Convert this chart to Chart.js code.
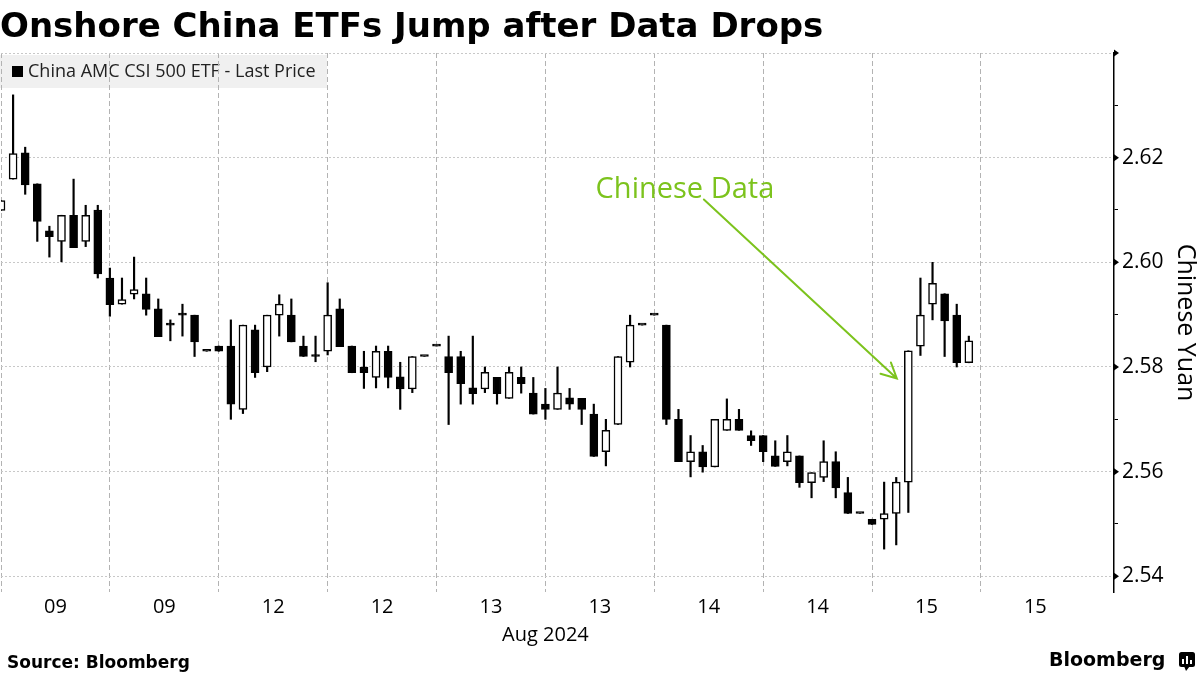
<!DOCTYPE html>
<html>
<head>
<meta charset="utf-8">
<script src="https://cdn.jsdelivr.net/npm/chart.js@4.4.1/dist/chart.umd.min.js"></script>
<style>
  html, body { margin: 0; padding: 0; background: #fff; }
  #chart { display: block; }
</style>
</head>
<body>
<canvas id="chart" width="1200" height="675"></canvas>
<script>
// 15-minute candles, China AMC CSI 500 ETF, 9 slots per half-day session
const opens  = [2.6099, 2.6159, 2.6209, 2.6150, 2.6060, 2.6040, 2.6090, 2.6040, 2.6100,
                2.5970, 2.5920, 2.5939, 2.5940, 2.5911, 2.5880, 2.5899, 2.5899, 2.5830,
                2.5840, 2.5840, 2.5719, 2.5871, 2.5800, 2.5899, 2.5899, 2.5840, 2.5820,
                2.5830, 2.5911, 2.5840, 2.5800, 2.5780, 2.5830, 2.5781, 2.5758, 2.5820,
                2.5840, 2.5820, 2.5820, 2.5760, 2.5758, 2.5780, 2.5740, 2.5780, 2.5750,
                2.5729, 2.5719, 2.5741, 2.5740, 2.5710, 2.5638, 2.5690, 2.5809, 2.5880,
                2.5899, 2.5880, 2.5700, 2.5619, 2.5638, 2.5609, 2.5679, 2.5700, 2.5669,
                2.5669, 2.5630, 2.5619, 2.5630, 2.5579, 2.5589, 2.5619, 2.5560, 2.5520,
                2.5509, 2.5509, 2.5520, 2.5580, 2.5840, 2.5920, 2.5940, 2.5899, 2.5808];
const highs  = [2.6118, 2.6320, 2.6220, 2.6150, 2.6069, 2.6090, 2.6159, 2.6109, 2.6109,
                2.5989, 2.5970, 2.6010, 2.5970, 2.5930, 2.5890, 2.5920, 2.5899, 2.5830,
                2.5840, 2.5890, 2.5880, 2.5880, 2.5899, 2.5938, 2.5930, 2.5859, 2.5859,
                2.5961, 2.5930, 2.5840, 2.5830, 2.5840, 2.5840, 2.5809, 2.5820, 2.5820,
                2.5840, 2.5859, 2.5830, 2.5859, 2.5800, 2.5780, 2.5800, 2.5800, 2.5780,
                2.5759, 2.5800, 2.5759, 2.5740, 2.5729, 2.5700, 2.5820, 2.5899, 2.5880,
                2.5899, 2.5880, 2.5719, 2.5669, 2.5650, 2.5700, 2.5739, 2.5719, 2.5678,
                2.5669, 2.5659, 2.5669, 2.5630, 2.5598, 2.5659, 2.5638, 2.5589, 2.5520,
                2.5509, 2.5580, 2.5589, 2.5831, 2.5970, 2.6000, 2.5940, 2.5920, 2.5859];
const lows   = [2.6099, 2.6159, 2.6130, 2.6040, 2.6010, 2.6001, 2.6028, 2.6030, 2.5970,
                2.5897, 2.5920, 2.5930, 2.5899, 2.5858, 2.5850, 2.5859, 2.5820, 2.5830,
                2.5830, 2.5700, 2.5711, 2.5780, 2.5791, 2.5859, 2.5848, 2.5820, 2.5810,
                2.5823, 2.5839, 2.5789, 2.5759, 2.5760, 2.5760, 2.5719, 2.5751, 2.5820,
                2.5840, 2.5690, 2.5729, 2.5729, 2.5751, 2.5729, 2.5740, 2.5750, 2.5710,
                2.5700, 2.5719, 2.5719, 2.5690, 2.5629, 2.5611, 2.5690, 2.5800, 2.5880,
                2.5899, 2.5690, 2.5619, 2.5590, 2.5599, 2.5609, 2.5679, 2.5679, 2.5650,
                2.5619, 2.5610, 2.5611, 2.5570, 2.5550, 2.5581, 2.5550, 2.5520, 2.5520,
                2.5499, 2.5452, 2.5460, 2.5522, 2.5822, 2.5890, 2.5820, 2.5800, 2.5808];
const closes = [2.6118, 2.6208, 2.6148, 2.6078, 2.6049, 2.6090, 2.6028, 2.6090, 2.5978,
                2.5919, 2.5929, 2.5948, 2.5910, 2.5858, 2.5880, 2.5899, 2.5848, 2.5830,
                2.5830, 2.5729, 2.5880, 2.5789, 2.5899, 2.5920, 2.5848, 2.5820, 2.5820,
                2.5899, 2.5839, 2.5789, 2.5789, 2.5830, 2.5780, 2.5758, 2.5820, 2.5820,
                2.5840, 2.5789, 2.5768, 2.5749, 2.5790, 2.5749, 2.5790, 2.5768, 2.5710,
                2.5719, 2.5750, 2.5729, 2.5719, 2.5629, 2.5679, 2.5820, 2.5880, 2.5880,
                2.5899, 2.5700, 2.5619, 2.5638, 2.5609, 2.5700, 2.5700, 2.5679, 2.5659,
                2.5638, 2.5610, 2.5638, 2.5579, 2.5598, 2.5619, 2.5569, 2.5520, 2.5520,
                2.5499, 2.5520, 2.5580, 2.5831, 2.5899, 2.5960, 2.5888, 2.5808, 2.5850];

const sessionLabels = ['09', '09', '12', '12', '13', '13', '14', '14', '15', '15'];
const sessionStarts = [0, 9, 18, 27, 36, 45, 54, 63, 72, 81];
const sessionMids   = [4.5, 13.5, 22.5, 31.5, 40.5, 49.5, 58.5, 67.5, 76.5, 85.5];
const monthLabel = 'Aug 2024';
const monthAt = 45;

const yTicks      = [2.54, 2.55, 2.56, 2.57, 2.58, 2.59, 2.60, 2.61, 2.62, 2.63, 2.64];
const yTickLabels = ['2.54', '', '2.56', '', '2.58', '', '2.60', '', '2.62', '', ''];
const yMajor      = [2.54, 2.56, 2.58, 2.60, 2.62, 2.64];

const legendLabel = 'China AMC CSI 500 ETF - Last Price';
const noteText = 'Chinese Data';
const noteAt = [49.15, 2.6122];
const arrowFrom = [58.1, 2.6120];
const arrowTo = [74.05, 2.5778];

const green = '#7cc31d';
const slots = closes.map((c, i) => i);
const xTickVals = sessionStarts.concat(sessionMids).sort((a, b) => a - b);

const bodies = slots.map(i => ({x: i, y: [Math.min(opens[i], closes[i]), Math.max(opens[i], closes[i])]}));
const wicks = slots.map(i => ({x: i, y: [lows[i], highs[i]]}));
// falling and flat candles are filled, rising ones hollow
const bodyColors = slots.map(i => closes[i] <= opens[i] ? '#000' : '#fff');

const isMajor = v => yMajor.some(m => Math.abs(m - v) < 1e-6);

const extras = {
  id: 'extras',
  beforeDraw(chart) {
    const ctx = chart.ctx;
    ctx.save();
    ctx.fillStyle = '#fff';
    ctx.fillRect(0, 0, chart.width, chart.height);
    ctx.fillStyle = '#f0f0f0';
    ctx.fillRect(0, 55, 327, 33);
    ctx.fillStyle = '#000';
    ctx.fillRect(12, 66, 11, 11);
    ctx.fillStyle = '#222';
    ctx.font = '18px "Open Sans"';
    ctx.textBaseline = 'middle';
    ctx.fillText(legendLabel, 28, 72);
    ctx.restore();
  },
  afterDatasetsDraw(chart) {
    const ctx = chart.ctx, xs = chart.scales.x, ys = chart.scales.y;
    const x1 = xs.getPixelForValue(arrowFrom[0]), y1 = ys.getPixelForValue(arrowFrom[1]);
    const x2 = xs.getPixelForValue(arrowTo[0]), y2 = ys.getPixelForValue(arrowTo[1]);
    const ang = Math.atan2(y1 - y2, x1 - x2);
    ctx.save();
    ctx.strokeStyle = green;
    ctx.lineWidth = 2;
    ctx.lineCap = 'round';
    ctx.beginPath();
    ctx.moveTo(x1, y1);
    ctx.lineTo(x2, y2);
    ctx.moveTo(x2 + 17 * Math.cos(ang - 0.47), y2 + 17 * Math.sin(ang - 0.47));
    ctx.lineTo(x2, y2);
    ctx.lineTo(x2 + 17 * Math.cos(ang + 0.47), y2 + 17 * Math.sin(ang + 0.47));
    ctx.stroke();
    ctx.fillStyle = green;
    ctx.font = '29px "Open Sans"';
    ctx.textBaseline = 'alphabetic';
    ctx.fillText(noteText, xs.getPixelForValue(noteAt[0]), ys.getPixelForValue(noteAt[1]));
    ctx.restore();
  },
  afterDraw(chart) {
    const ctx = chart.ctx, ys = chart.scales.y, area = chart.chartArea;
    ctx.save();
    // tick markers on the price axis
    ctx.fillStyle = '#000';
    yMajor.forEach(v => {
      const y = ys.getPixelForValue(v);
      ctx.beginPath();
      ctx.moveTo(area.right, y - 3.5);
      ctx.lineTo(area.right + 5, y);
      ctx.lineTo(area.right, y + 3.5);
      ctx.closePath();
      ctx.fill();
    });
    ctx.textBaseline = 'alphabetic';
    ctx.font = 'bold 34px "DejaVu Sans"';
    ctx.fillText('Onshore China ETFs Jump after Data Drops', 0, 37);
    ctx.font = 'bold 17px "DejaVu Sans"';
    ctx.fillText('Source: Bloomberg', 7, 668);
    ctx.font = 'bold 19px "DejaVu Sans"';
    ctx.fillText('Bloomberg', 1049, 666);
    // logo mark
    ctx.beginPath();
    ctx.roundRect(1179, 652, 16, 15, 2.5);
    ctx.fill();
    ctx.beginPath();
    ctx.moveTo(1184, 666);
    ctx.lineTo(1190, 666);
    ctx.lineTo(1186, 671);
    ctx.closePath();
    ctx.fill();
    ctx.fillStyle = '#fff';
    ctx.fillRect(1182, 659, 2, 5);
    ctx.fillRect(1186, 656, 2, 8);
    ctx.fillRect(1190, 660, 2, 4);
    ctx.restore();
  }
};

new Chart(document.getElementById('chart'), {
  type: 'bar',
  data: {
    datasets: [
      {
        label: 'body',
        data: bodies,
        backgroundColor: bodyColors,
        borderColor: '#000',
        borderWidth: 1.5,
        borderSkipped: false,
        barThickness: 8,
        minBarLength: 2,
        grouped: false,
        order: 0
      },
      {
        label: 'wick',
        data: wicks,
        backgroundColor: '#000',
        borderWidth: 0,
        barThickness: 1.5,
        grouped: false,
        order: 1
      }
    ]
  },
  options: {
    responsive: false,
    animation: false,
    devicePixelRatio: 1,
    layout: { padding: { top: 53, left: 0, right: 0, bottom: 0 } },
    plugins: {
      legend: { display: false },
      tooltip: { enabled: false },
      title: { display: false }
    },
    scales: {
      x: {
        type: 'linear',
        min: 0,
        max: 92,
        offset: false,
        afterBuildTicks: s => { s.ticks = xTickVals.map(v => ({value: v})); },
        afterFit: s => { s.height = 83; },
        ticks: {
          autoSkip: false,
          maxRotation: 0,
          padding: 1,
          color: '#000',
          font: { family: 'Open Sans', size: 20, lineHeight: 1.4 },
          callback: v => {
            const m = sessionMids.indexOf(v);
            if (m >= 0) return sessionLabels[m];
            return v === monthAt ? ['', monthLabel] : '';
          }
        },
        grid: {
          offset: false,
          drawTicks: false,
          lineWidth: 1,
          color: c => (c.tick && sessionStarts.includes(c.tick.value)) ? '#b3b3b3' : 'rgba(0,0,0,0)'
        },
        border: { display: false, dash: [5, 3] }
      },
      y: {
        type: 'linear',
        position: 'right',
        min: 2.537,
        max: 2.64,
        afterBuildTicks: s => { s.ticks = yTicks.map(v => ({value: v})); },
        afterFit: s => { s.width = 86; },
        ticks: {
          padding: 4,
          color: '#000',
          font: { family: 'Open Sans', size: 21 },
          callback: (v, i) => yTickLabels[i]
        },
        grid: {
          lineWidth: 1,
          tickLength: 4,
          color: c => (c.tick && isMajor(c.tick.value)) ? '#c8c8c8' : 'rgba(0,0,0,0)',
          tickColor: c => (c.tick && isMajor(c.tick.value)) ? 'rgba(0,0,0,0)' : '#000'
        },
        border: { display: true, color: '#000', width: 1.5, dash: [2, 2] },
        title: {
          display: true,
          text: 'Chinese Yuan',
          color: '#000',
          font: { family: 'Open Sans', size: 25 },
          padding: { top: 0, bottom: 0 }
        }
      }
    }
  },
  plugins: [extras]
});
</script>
</body>
</html>
